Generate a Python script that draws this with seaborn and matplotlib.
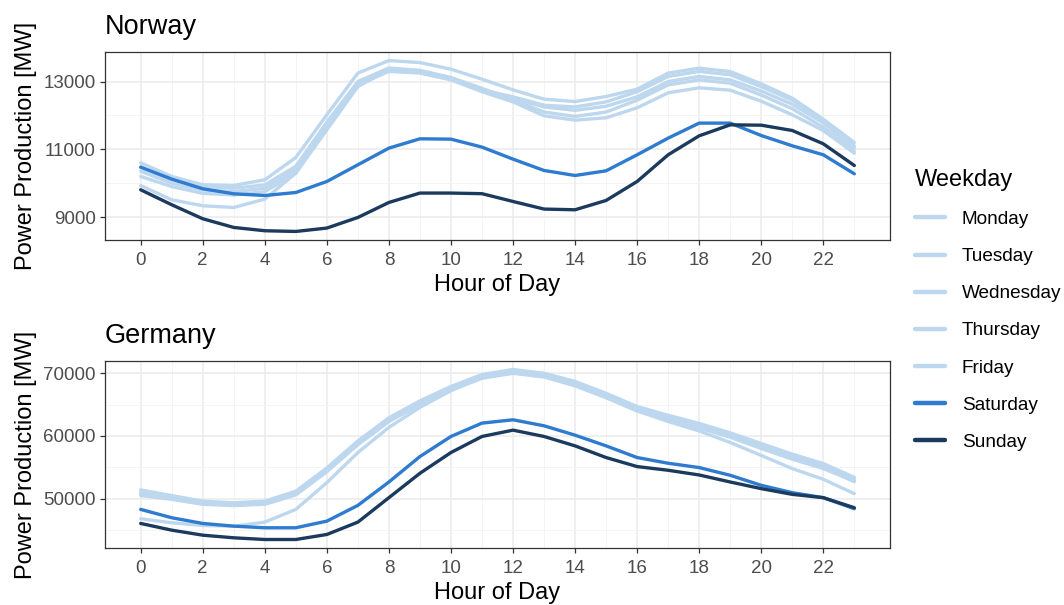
import numpy as np
import pandas as pd
import matplotlib
matplotlib.use("Agg")
import matplotlib.pyplot as plt
from matplotlib.lines import Line2D
from matplotlib.ticker import FixedLocator
import seaborn as sns

hours = list(range(24))
weekdays = ["Monday", "Tuesday", "Wednesday", "Thursday", "Friday", "Saturday", "Sunday"]
colors = ["#BDD7EE", "#BDD7EE", "#BDD7EE", "#BDD7EE", "#BDD7EE", "#2E7BCF", "#1B3A5E"]

x_ticks = [0, 2, 4, 6, 8, 10, 12, 14, 16, 18, 20, 22]
norway_yticks = [9000, 11000, 13000]
germany_yticks = [50000, 60000, 70000]

norway_mon = [9930, 9510, 9333, 9283, 9530, 10297, 11575, 12853, 13345, 13300, 13080, 12780,
              12500, 12250, 12150, 12270, 12550, 13000, 13150, 13050, 12720, 12330, 11780, 11050]
norway_tue = [10450, 10100, 9900, 9850, 9950, 10500, 11800, 13000, 13400, 13330, 13120, 12800,
              12450, 12100, 11970, 12100, 12450, 12900, 13050, 12950, 12600, 12200, 11650, 10950]
norway_wed = [10600, 10200, 9953, 9933, 10100, 10758, 12018, 13250, 13620, 13560, 13365, 13070,
              12755, 12480, 12410, 12558, 12775, 13250, 13395, 13295, 12932, 12510, 11890, 11200]
norway_thu = [10350, 10000, 9800, 9750, 9850, 10400, 11700, 12950, 13350, 13300, 13100, 12750,
              12550, 12300, 12250, 12400, 12700, 13150, 13300, 13200, 12850, 12450, 11850, 11100]
norway_fri = [10200, 9900, 9700, 9650, 9750, 10300, 11650, 12900, 13300, 13250, 13050, 12700,
              12400, 11988, 11860, 11930, 12225, 12667, 12815, 12745, 12420, 12018, 11555, 10885]
norway_sat = [10475, 10120, 9835, 9687, 9637, 9725, 10050, 10543, 11035, 11310, 11300, 11065,
              10710, 10375, 10227, 10365, 10838, 11330, 11773, 11773, 11407, 11103, 10838, 10277]
norway_sun = [9805, 9363, 8950, 8693, 8596, 8575, 8675, 8988, 9431, 9708, 9708, 9690,
              9460, 9236, 9215, 9490, 10050, 10838, 11398, 11722, 11712, 11555, 11162, 10522]

germany_mon = [46800, 46160, 45730, 45600, 46260, 48290, 52560, 57360, 61360, 64560, 67220, 69360,
               70100, 69500, 68100, 66200, 64100, 62700, 61300, 59800, 58000, 56300, 54800, 52800]
germany_tue = [51400, 50500, 49600, 49350, 49600, 51200, 54900, 59200, 62900, 65600, 67900, 69800,
               70600, 70000, 68700, 66800, 64700, 63300, 62000, 60500, 58800, 57100, 55600, 53400]
germany_wed = [51100, 50300, 49400, 49100, 49400, 50900, 54600, 58900, 62600, 65300, 67600, 69500,
               70300, 69700, 68400, 66500, 64400, 63000, 61700, 60200, 58500, 56800, 55300, 53100]
germany_thu = [50500, 49900, 49100, 48900, 49100, 50600, 54300, 58600, 62300, 65000, 67300, 69200,
               70000, 69400, 68000, 66100, 64000, 62600, 61300, 59900, 58200, 56500, 55000, 52700]
germany_fri = [50800, 50100, 49300, 49000, 49300, 50800, 54500, 58800, 62500, 65200, 67500, 69400,
               70200, 69600, 68200, 66200, 64000, 62300, 60800, 58960, 56900, 54800, 53090, 50800]
germany_sat = [48290, 46960, 46050, 45620, 45360, 45360, 46420, 48930, 52660, 56720, 59920, 62050,
               62580, 61620, 60130, 58420, 56560, 55650, 54960, 53730, 52130, 50960, 50160, 48400]
germany_sun = [46050, 44980, 44180, 43760, 43490, 43490, 44290, 46260, 50160, 54050, 57360, 59920,
               60930, 59920, 58420, 56560, 55120, 54530, 53780, 52660, 51600, 50690, 50160, 48560]

norway = [norway_mon, norway_tue, norway_wed, norway_thu, norway_fri, norway_sat, norway_sun]
germany = [germany_mon, germany_tue, germany_wed, germany_thu, germany_fri, germany_sat, germany_sun]


def make_df(series):
    rows = []
    for day, vals in zip(weekdays, series):
        for h, v in zip(hours, vals):
            rows.append({"Hour": h, "Power": v, "Weekday": day})
    return pd.DataFrame(rows)


def midpoints(t):
    step = t[1] - t[0]
    pts = [t[0] - step / 2] + [a + step / 2 for a in t]
    return pts


sns.set_theme(style="white")
plt.rcParams["font.family"] = ["Liberation Sans", "DejaVu Sans"]

fig = plt.figure(figsize=(10.64, 6.05), dpi=100)
W, H = 1064, 605
ax1 = fig.add_axes([105 / W, 1 - 240 / H, (890 - 105) / W, (240 - 52) / H])
ax2 = fig.add_axes([105 / W, 1 - 548 / H, (890 - 105) / W, (548 - 361) / H])

palette = dict(zip(weekdays, colors))

for ax, series, title, yt in [
    (ax1, norway, "Norway", norway_yticks),
    (ax2, germany, "Germany", germany_yticks),
]:
    df = make_df(series)
    sns.lineplot(data=df, x="Hour", y="Power", hue="Weekday", hue_order=weekdays,
                 palette=palette, linewidth=2.4, ax=ax, legend=False)
    allv = np.concatenate([np.array(s) for s in series])
    lo, hi = allv.min(), allv.max()
    pad = (hi - lo) * 0.05
    ax.set_ylim(lo - pad, hi + pad)
    ax.set_xlim(-1.15, 24.15)
    ax.xaxis.set_major_locator(FixedLocator(x_ticks))
    ax.xaxis.set_minor_locator(FixedLocator([t + 1 for t in x_ticks]))
    ax.yaxis.set_major_locator(FixedLocator(yt))
    ax.yaxis.set_minor_locator(FixedLocator(midpoints(yt)))
    ax.grid(which="major", color="#EBEBEB", linewidth=1.1)
    ax.grid(which="minor", color="#F2F2F2", linewidth=0.6)
    ax.set_axisbelow(True)
    for sp in ax.spines.values():
        sp.set_color("#333333")
        sp.set_linewidth(0.9)
    ax.tick_params(axis="both", which="major", direction="out", length=3.5, width=0.9,
                   color="#333333", labelsize=13.5, labelcolor="#4D4D4D", pad=3,
                   left=True, bottom=True)
    ax.tick_params(axis="x", which="major", pad=5)
    ax.tick_params(axis="both", which="minor", length=0)
    ax.set_xlabel("Hour of Day", fontsize=17, color="black", labelpad=4)
    ax.set_ylabel("Power Production [MW]", fontsize=17, color="black", labelpad=5)
    ax.set_title(title, fontsize=19.5, loc="left", color="black", pad=13)

handles = [Line2D([0], [0], color=c, linewidth=3.2) for c in colors]
leg = fig.legend(handles, weekdays, title="Weekday", loc="upper left",
                 bbox_to_anchor=(915 / W, 1 - 169 / H), frameon=False,
                 fontsize=13.7, title_fontsize=17, handlelength=1.6,
                 labelspacing=1.04, handletextpad=0.85, borderpad=0, borderaxespad=0)
leg._legend_box.align = "left"
leg.get_title().set_color("black")
for t in leg.get_texts():
    t.set_color("black")

fig.savefig("out.png", dpi=100)
